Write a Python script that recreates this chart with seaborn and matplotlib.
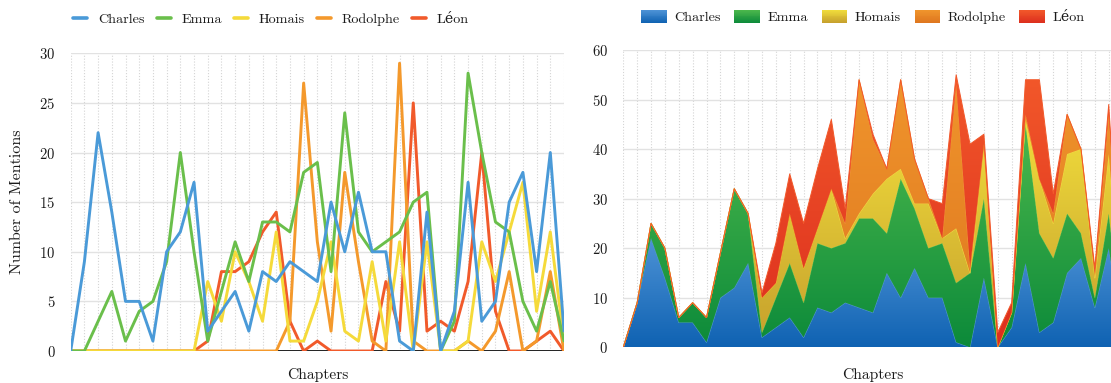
import numpy as np
import pandas as pd
import matplotlib
matplotlib.use("Agg")
import matplotlib.pyplot as plt
import seaborn as sns
from matplotlib.colors import LinearSegmentedColormap, to_rgb
from matplotlib.legend_handler import HandlerBase
from matplotlib.patches import Rectangle, Patch, PathPatch
from matplotlib.lines import Line2D

# Mentions of each character per chapter
chapters = list(range(37))
characters = ["Charles", "Emma", "Homais", "Rodolphe", "Léon"]
charles = [0, 9, 22, 14, 5, 5, 1, 10, 12, 17, 2, 4, 6, 2, 8, 7, 9, 8, 7, 15,
           10, 16, 10, 10, 1, 0, 14, 0, 4, 17, 3, 5, 15, 18, 8, 20, 2]
emma = [0, 0, 3, 6, 1, 4, 5, 9, 20, 10, 1, 6, 11, 7, 13, 13, 12, 18, 19, 8,
        24, 12, 10, 11, 12, 15, 16, 0, 3, 28, 20, 13, 12, 5, 2, 7, 1]
homais = [0, 0, 0, 0, 0, 0, 0, 0, 0, 0, 7, 3, 10, 7, 3, 12, 1, 1, 5, 11,
          2, 1, 9, 1, 11, 0, 11, 0, 0, 1, 11, 7, 12, 17, 4, 12, 1]
rodolphe = [0, 0, 0, 0, 0, 0, 0, 0, 0, 0, 0, 0, 0, 0, 0, 0, 3, 27, 11, 2,
            18, 9, 1, 0, 29, 1, 0, 0, 0, 1, 0, 2, 8, 0, 1, 8, 0]
leon = [0, 0, 0, 0, 0, 0, 0, 0, 0, 0, 1, 8, 8, 9, 12, 14, 3, 0, 1, 0,
        0, 0, 0, 7, 2, 25, 2, 3, 2, 7, 20, 4, 0, 0, 1, 2, 0]
series = [charles, emma, homais, rodolphe, leon]

line_colors = ["#4a9ad8", "#6abf4b", "#f5da3a", "#f4992c", "#f15a2b"]
fill_top = ["#4e93d6", "#4cb84c", "#f1dd3c", "#f0952c", "#f2582a"]
fill_bottom = ["#0f62b2", "#0c8a3a", "#c59f2c", "#de761f", "#dc2e1e"]

sns.set_theme(style="white")
plt.rcParams["font.family"] = ["cmr10", "DejaVu Serif"]
plt.rcParams["axes.formatter.use_mathtext"] = True

W, H = 1111, 383
fig = plt.figure(figsize=(W / 100, H / 100), dpi=100)
fig.patch.set_facecolor("white")
ax1 = fig.add_axes([70.7 / W, 32 / H, 493.3 / W, 297.7 / H])
ax2 = fig.add_axes([623.3 / W, 35.7 / H, 499.3 / W, 297.3 / H])

# ---- left: one line per character ----
df = pd.DataFrame({
    "Chapter": chapters * len(characters),
    "Mentions": sum(series, []),
    "Character": np.repeat(characters, len(chapters)),
})
sns.lineplot(data=df, x="Chapter", y="Mentions", hue="Character",
             hue_order=characters, palette=line_colors, linewidth=2.1,
             errorbar=None, legend=False, ax=ax1)
for k, ln in enumerate(ax1.lines):
    ln.set_zorder(10 - k)

# ---- right: stacked areas with vertical gradients ----
x = np.array(chapters, dtype=float)
lower = np.zeros(len(chapters))
grad = np.linspace(0, 1, 256).reshape(-1, 1)
for k, vals in enumerate(series):
    upper = lower + np.array(vals, dtype=float)
    poly = ax2.fill_between(x, lower, upper, facecolor="none",
                            edgecolor="none", linewidth=0)
    clip = PathPatch(poly.get_paths()[0], transform=ax2.transData,
                     facecolor="none", edgecolor="none")
    ax2.add_patch(clip)
    cmap = LinearSegmentedColormap.from_list(f"band{k}",
                                             [fill_bottom[k], fill_top[k]])
    img = ax2.imshow(grad, cmap=cmap, origin="lower", aspect="auto",
                     extent=[x[0], x[-1], 0, upper.max()],
                     interpolation="bilinear", zorder=2 + k)
    img.set_clip_path(clip)
    ax2.plot(x, upper, color=fill_top[k], lw=0.7, zorder=2.5 + k)
    lower = upper

# ---- shared axis styling ----
for ax, ymax, step in [(ax1, 30, 5), (ax2, 60, 10)]:
    ax.set_xlim(0, 36)
    ax.set_ylim(0, ymax)
    ax.set_xticks(chapters)
    ax.set_xticklabels([])
    ax.set_yticks(np.arange(0, ymax + 1, step))
    ax.tick_params(axis="both", length=0)
    ax.tick_params(axis="y", pad=11, labelsize=10.6, labelcolor="#1a1a1a")
    for s in ax.spines.values():
        s.set_visible(False)
    ax.set_axisbelow(True)
    ax.yaxis.grid(True, color="#e2e2e2", lw=1.0)
    ax.xaxis.grid(True, color="#d4d4d4", lw=0.8, ls=(0, (1, 1.6)))
    ax.axhline(0, color="#111111", lw=1.3, zorder=1.5)
    ax.set_ylabel("")

ax1.set_ylabel("Number of Mentions", fontsize=11.5, color="#1a1a1a", va="center")
ax1.yaxis.set_label_coords(-0.109, 0.5)
ax1.set_xlabel("Chapters", fontsize=11.2, color="#1a1a1a", va="center")
ax1.xaxis.set_label_coords(0.5, -0.081)
ax2.set_xlabel("Chapters", fontsize=11.2, color="#1a1a1a", va="center")
ax2.xaxis.set_label_coords(0.5, -0.093)

# ---- legends ----
line_handles = [Line2D([], [], color=c, lw=2.6) for c in line_colors]
fig.legend(line_handles, characters, loc="center",
           bbox_to_anchor=(271 / W, 1 - 20 / H), ncol=5, frameon=False,
           fontsize=10.2, handlelength=1.0, handletextpad=0.75,
           columnspacing=0.85, labelcolor="#1a1a1a")


class GradientHandler(HandlerBase):
    def __init__(self, top, bottom, steps=14):
        super().__init__()
        self.top = np.array(to_rgb(top))
        self.bottom = np.array(to_rgb(bottom))
        self.steps = steps

    def create_artists(self, legend, orig_handle, xdescent, ydescent,
                       width, height, fontsize, trans):
        arts = []
        h = height / self.steps
        for i in range(self.steps):
            f = (i + 0.5) / self.steps
            col = self.bottom * (1 - f) + self.top * f
            arts.append(Rectangle((-xdescent, -ydescent + i * h), width,
                                  h * 1.05, facecolor=col, edgecolor="none",
                                  transform=trans))
        return arts


patch_handles = [Patch(facecolor=c) for c in fill_top]
hmap = {p: GradientHandler(fill_top[k], fill_bottom[k])
        for k, p in enumerate(patch_handles)}
fig.legend(patch_handles, characters, loc="center",
           bbox_to_anchor=(863 / W, 1 - 17 / H), ncol=5, frameon=False,
           fontsize=10.2, handlelength=1.8, handleheight=1.1,
           handletextpad=0.55, columnspacing=0.95, labelcolor="#1a1a1a",
           handler_map=hmap)

fig.savefig("out.png", dpi=100, facecolor="white")
